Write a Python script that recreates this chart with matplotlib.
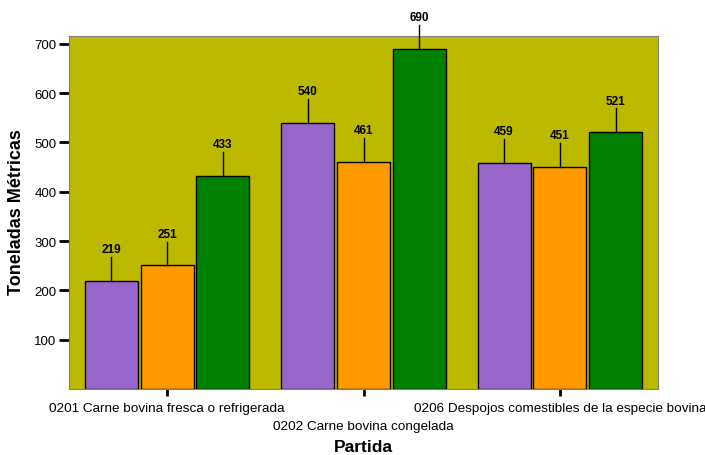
import numpy as np
from matplotlib import pyplot as plt

# Data
partidas = ['0201 Carne bovina fresca o refrigerada',
            '0202 Carne bovina congelada',
            '0206 Despojos comestibles de la especie bovina']
serie_1 = [219, 540, 459]
serie_2 = [251, 461, 451]
serie_3 = [433, 690, 521]

colores = ['#9966CC', '#FF9900', '#008000']
fondo = '#BDB800'

plt.rcParams['font.family'] = ['Liberation Sans', 'DejaVu Sans']

fig = plt.figure(figsize=(7.05, 4.56), dpi=100)
ax = fig.add_axes([69/705, 1-390/456, 589/705, 353/456])
ax.set_facecolor(fondo)

x = np.arange(len(partidas))
ancho = 0.27
paso = 0.284
for i, (vals, col) in enumerate(zip([serie_1, serie_2, serie_3], colores)):
	pos = x + (i-1)*paso
	ax.bar(pos, vals, width=ancho, color=col, edgecolor='black', linewidth=1, zorder=2)
	for p, v in zip(pos, vals):
		# leader line from bar top to label
		ax.plot([p, p], [v, v+48], color='black', linewidth=1, zorder=3, clip_on=False)
		ax.text(p, v+52, str(v), ha='center', va='bottom', fontsize=8.5,
				fontweight='bold', zorder=4, clip_on=False)

ax.set_xlim(-0.5, 2.5)
ax.set_ylim(0, 716)
ax.set_yticks([100, 200, 300, 400, 500, 600, 700])
ax.tick_params(axis='y', length=7, width=2, labelsize=9.5, pad=2)
ax.set_xticks(x)
ax.set_xticklabels(['', '', ''])
ax.tick_params(axis='x', length=5, width=2)
for s in ax.spines.values():
	s.set_color('#808080')

# staggered category labels
for i, lab in enumerate(partidas):
	yy = 409 if i % 2 == 0 else 427
	fig.text((69 + 589*(i+0.5)/3)/705, 1-yy/456, lab, ha='center', va='center', fontsize=9.7)

fig.text(17/705, 1-212/456, 'Toneladas Métricas', rotation=90, ha='center', va='center',
		 fontsize=13, fontweight='bold')
fig.text(363/705, 1-448/456, 'Partida', ha='center', va='center', fontsize=12.5, fontweight='bold')

plt.savefig('out.png', dpi=100)
